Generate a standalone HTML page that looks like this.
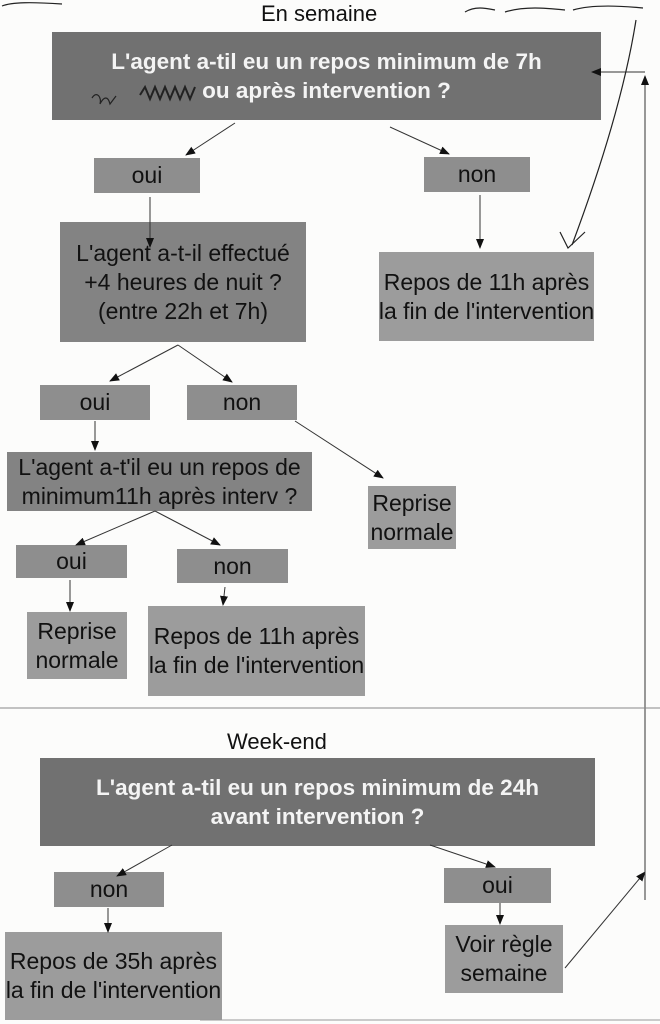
<!DOCTYPE html>
<html><head><meta charset="utf-8"><style>
body{margin:0;width:660px;height:1024px;background:#fcfcfb;position:relative;overflow:hidden;font-family:"Liberation Sans",sans-serif}
.b{position:absolute;display:flex;align-items:center;justify-content:center;text-align:center;color:#111;font-size:23px;line-height:29px;white-space:nowrap}
.d{background:#717171;color:#f4f4f4;font-weight:bold;font-size:22.5px}
.m{background:#838383}
.l{background:#9c9c9c}
.s{background:#8e8e8e}
.t{position:absolute;font-size:22px;color:#111}
svg{position:absolute;left:0;top:0}
</style></head><body>
<div class="t" style="left:261px;top:1px">En semaine</div>
<div class="b d" style="left:52px;top:32px;width:549px;height:88px">L'agent a-til eu un repos minimum de 7h<br>ou après intervention ?</div>
<div class="b s" style="left:94px;top:158px;width:106px;height:35px">oui</div>
<div class="b s" style="left:424px;top:157px;width:106px;height:35px">non</div>
<div class="b m" style="left:60px;top:222px;width:246px;height:120px">L'agent a-t-il effectué<br>+4 heures de nuit ?<br>(entre 22h et 7h)</div>
<div class="b l" style="left:379px;top:252px;width:215px;height:89px">Repos de 11h après<br>la fin de l'intervention</div>
<div class="b s" style="left:40px;top:385px;width:110px;height:35px">oui</div>
<div class="b s" style="left:187px;top:385px;width:110px;height:35px">non</div>
<div class="b m" style="left:7px;top:452px;width:305px;height:59px">L'agent a-t'il eu un repos de<br>minimum11h après interv ?</div>
<div class="b l" style="left:368px;top:486px;width:88px;height:63px">Reprise<br>normale</div>
<div class="b s" style="left:16px;top:545px;width:111px;height:33px">oui</div>
<div class="b s" style="left:177px;top:549px;width:111px;height:34px">non</div>
<div class="b l" style="left:27px;top:612px;width:100px;height:67px">Reprise<br>normale</div>
<div class="b l" style="left:148px;top:606px;width:217px;height:90px">Repos de 11h après<br>la fin de l'intervention</div>
<div class="t" style="left:227px;top:729px">Week-end</div>
<div class="b d" style="left:40px;top:758px;width:555px;height:88px">L'agent a-til eu un repos minimum de 24h<br>avant intervention ?</div>
<div class="b s" style="left:54px;top:872px;width:110px;height:35px">non</div>
<div class="b s" style="left:444px;top:868px;width:107px;height:35px">oui</div>
<div class="b l" style="left:5px;top:932px;width:217px;height:88px">Repos de 35h après<br>la fin de l'intervention</div>
<div class="b l" style="left:445px;top:925px;width:118px;height:68px">Voir règle<br>semaine</div>
<svg width="660" height="1024" viewBox="0 0 660 1024">
<defs><marker id="a" markerWidth="10" markerHeight="10" refX="9" refY="4" orient="auto" markerUnits="userSpaceOnUse"><path d="M0,0 L10,4 L0,8z" fill="#111"/></marker></defs>
<g stroke="#333" stroke-width="1" fill="none" marker-end="url(#a)">
<line x1="235" y1="123" x2="186" y2="155"/>
<line x1="390" y1="127" x2="449" y2="154"/>
<line x1="150" y1="197" x2="150" y2="247"/>
<line x1="480" y1="195" x2="480" y2="248"/>
<line x1="178" y1="345" x2="110" y2="381"/>
<line x1="178" y1="345" x2="232" y2="382"/>
<line x1="95" y1="421" x2="95" y2="450"/>
<line x1="295" y1="421" x2="383" y2="478"/>
<line x1="155" y1="511" x2="76" y2="545"/>
<line x1="155" y1="511" x2="220" y2="545"/>
<line x1="70" y1="580" x2="70" y2="611"/>
<line x1="225" y1="587" x2="223" y2="605"/>
<line x1="172" y1="845" x2="117" y2="876"/>
<line x1="430" y1="845" x2="495" y2="867"/>
<line x1="108" y1="908" x2="108" y2="932"/>
<line x1="500" y1="903" x2="500" y2="924"/>
<line x1="565" y1="968" x2="645" y2="872"/>
<line x1="645" y1="900" x2="645" y2="76"/>
<line x1="645" y1="72" x2="592" y2="72"/>
</g>
<line x1="0" y1="708" x2="660" y2="708" stroke="#888" stroke-width="1"/>
<line x1="200" y1="1020" x2="660" y2="1020" stroke="#999" stroke-width="1"/>
<g stroke="#222" stroke-width="1.2" fill="none">
<path d="M636,20 C625,90 600,170 572,245"/>
<path d="M560,232 L568,248 L585,232"/>
<path d="M92,98 c5,-8 10,0 8,6 c4,-8 8,-8 10,0 l6,-8"/>
<path d="M140,95 l5,-8 l5,12 l5,-12 l5,12 l5,-12 l5,12 l5,-12 l5,12 l5,-12 l5,12 l5,-12" stroke-width="2"/>
<path d="M465,12 c10,-6 20,-4 30,-2 m10,2 c20,-6 40,-4 60,-2 m8,0 c20,-6 50,-4 70,-2"/>
<path d="M2,6 c10,-4 30,-4 60,-2"/>
</g>
</svg>
</body></html>
